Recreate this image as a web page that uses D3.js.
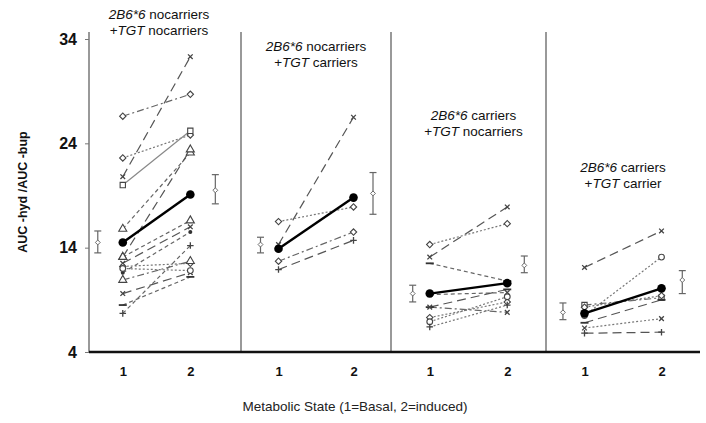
<!DOCTYPE html>
<html>
<head>
<meta charset="utf-8">
<script src="https://cdn.jsdelivr.net/npm/d3@7"></script>
<style>
  body { margin: 0; background: #fff; }
  svg { font-family: "Liberation Sans", Arial, sans-serif; }
  .tick-y text { font-size: 16px; font-weight: bold; fill: #111; }
  .tick-x text { font-size: 13px; font-weight: bold; fill: #111; }
</style>
</head>
<body>
<svg width="706" height="423"></svg>
<script>
// ---- data ----
var yTicks = [4, 14, 24, 34];
var states = [1, 2];

// panel titles: [italic gene, rest], [italic gene, rest]
var titleLine1 = [['2B6*6', ' nocarriers'], ['2B6*6', ' nocarriers'], ['2B6*6', ' carriers'], ['2B6*6', ' carriers']];
var titleLine2 = [['TGT', ' nocarriers'], ['TGT', ' carriers'], ['TGT', ' nocarriers'], ['TGT', ' carrier']];

// individual subjects [basal, induced]
var p1Subjects = [[20.8, 32.3], [26.6, 28.7], [22.6, 24.8], [20.0, 25.2], [15.8, 23.1],
                  [13.1, 23.4], [13.1, 16.6], [12.5, 16.0], [12.2, 12.5], [10.9, 12.7],
                  [11.6, 15.5], [9.6, 11.6], [8.5, 11.2], [7.7, 14.2], [12.0, 11.8]];
var p2Subjects = [[14.3, 26.5], [16.5, 17.9], [12.7, 15.5], [11.9, 14.7]];
var p3Subjects = [[13.1, 17.9], [14.3, 16.3], [12.5, 10.8], [9.5, 9.7], [8.3, 10.0],
                  [8.3, 7.8], [7.3, 8.8], [6.9, 9.3], [6.4, 8.5]];
var p4Subjects = [[12.1, 15.6], [7.5, 13.1], [8.5, 9.2], [6.8, 9.0], [6.3, 7.2], [5.8, 5.9], [8.3, 9.4]];

// group means
var meanBasal   = [14.5, 13.9, 9.6, 7.7];
var meanInduced = [19.1, 18.8, 10.6, 10.1];

// error bars (mean, low, high)
var errBasalMid   = [14.5, 14.3, 9.6, 7.8];
var errBasalLo    = [13.5, 13.5, 8.8, 7.1];
var errBasalHi    = [15.6, 15.0, 10.4, 8.7];
var errInducedMid = [19.5, 19.2, 12.3, 10.9];
var errInducedLo  = [18.2, 17.2, 11.6, 9.6];
var errInducedHi  = [21.0, 21.2, 13.2, 11.8];

// ---- styles (marker / dash per subject) ----
var p1Marks = ['x', 'd', 'd', 's', 't', 't', 't', 'x', 'd', 't', 'dot', 'x', '-', '+', 'o'];
var p1Dash  = ['long', 'dashdot', 'dot', 'solid', 'dash', 'long', 'dash', 'long', 'dot', 'dashdot', 'dash', 'long', 'dash', 'dash', 'dot'];
var p2Marks = ['x', 'd', 'd', '+'];
var p2Dash  = ['long', 'dot', 'dashdot', 'long'];
var p3Marks = ['x', 'd', '-', 'x', '-', 'x', 'd', 'o', '+'];
var p3Dash  = ['long', 'dot', 'dash', 'dash', 'long', 'dashdot', 'dot', 'dot', 'dot'];
var p4Marks = ['x', 'o', 's', '-', 'x', '+', 'd'];
var p4Dash  = ['long', 'dot', 'dashdot', 'long', 'dot', 'long', 'dot'];

var subjects = [p1Subjects, p2Subjects, p3Subjects, p4Subjects];
var marks = [p1Marks, p2Marks, p3Marks, p4Marks];
var dashes = [p1Dash, p2Dash, p3Dash, p4Dash];

// ---- layout ----
var svg = d3.select('svg');
var plotTop = 32, plotBottom = 352;
var panelEdges = [89, 241, 391, 546, 700];
var panelDomains = [[0.5, 2.75], [0.5, 2.5], [0.5, 2.5], [0.5, 2.5]];
var errPos = [[0.63, 2.37], [0.76, 2.26], [0.78, 2.22], [0.72, 2.27]];
var titleY = [[14, 30], [46, 62], [115, 131], [167, 183]];
var titleShift = [-6, 0, 5, 0];
var dashArray = { long: '9,5', dash: '4,3', dot: '2,2', dashdot: '7,3,2,3', solid: null };
var lineColor = { long: '#555', dash: '#666', dot: '#777', dashdot: '#666', solid: '#888' };

var yScale = d3.scaleLinear()
    .domain([4, 34])
    .range([352, 39]);

// left y axis
var yAxis = svg.append('g')
    .attr('class', 'tick-y')
    .attr('transform', 'translate(' + panelEdges[0] + ',0)')
    .call(d3.axisLeft(yScale).tickValues(yTicks).tickSize(4).tickPadding(8));
yAxis.select('.domain').remove();
yAxis.selectAll('.tick line').attr('stroke', '#777');

// panel frame lines
svg.selectAll('.divider')
    .data(panelEdges.slice(0, 4))
    .enter()
    .append('line')
    .attr('class', 'divider')
    .attr('x1', function(d){ return d; })
    .attr('x2', function(d){ return d; })
    .attr('y1', plotTop)
    .attr('y2', plotBottom)
    .attr('stroke', '#777')
    .attr('stroke-width', 1.5);

var symbolTimes = d3.symbolTimes || d3.symbolCross;
var symbolPlus = d3.symbolPlus || d3.symbolCross;

function drawMarker(g, type, x, y) {
    if (type === '-') {
        g.append('line')
            .attr('x1', x - 4).attr('x2', x + 4)
            .attr('y1', y).attr('y2', y)
            .attr('stroke', '#333').attr('stroke-width', 1.8);
        return;
    }
    if (type === 'dot') {
        g.append('circle').attr('cx', x).attr('cy', y).attr('r', 2).attr('fill', '#333');
        return;
    }
    var sym, size = 30, open = true, rot = 0;
    if (type === 'x') { sym = symbolTimes; size = 16; open = false; }
    else if (type === '+') { sym = symbolPlus; size = 16; open = false; }
    else if (type === 'd') { sym = d3.symbolSquare; size = 20; rot = 45; }
    else if (type === 's') { sym = d3.symbolSquare; size = 28; }
    else if (type === 't') { sym = d3.symbolTriangle; size = 28; }
    else { sym = d3.symbolCircle; size = 26; }
    g.append('path')
        .attr('d', d3.symbol().type(sym).size(size)())
        .attr('transform', 'translate(' + x + ',' + y + ') rotate(' + rot + ')')
        .attr('fill', open ? '#fff' : 'none')
        .attr('stroke', '#444')
        .attr('stroke-width', open ? 1.1 : 1.3);
}

subjects.forEach(function(panel, i) {
    var xScale = d3.scaleLinear()
        .domain(panelDomains[i])
        .range([panelEdges[i], panelEdges[i + 1]]);
    var g = svg.append('g').attr('class', 'panel');

    // x tick labels
    var xAxis = svg.append('g')
        .attr('class', 'tick-x')
        .attr('transform', 'translate(0,' + (plotBottom + 12) + ')')
        .call(d3.axisBottom(xScale).tickValues(states).tickSize(0).tickFormat(d3.format('d')));
    xAxis.select('.domain').remove();

    // individual subject lines
    panel.forEach(function(d, j) {
        var style = dashes[i][j];
        g.append('line')
            .attr('x1', xScale(1)).attr('x2', xScale(2))
            .attr('y1', yScale(d[0])).attr('y2', yScale(d[1]))
            .attr('stroke', lineColor[style])
            .attr('stroke-width', 1.2)
            .attr('stroke-dasharray', dashArray[style]);
    });
    panel.forEach(function(d, j) {
        drawMarker(g, marks[i][j], xScale(1), yScale(d[0]));
        drawMarker(g, marks[i][j], xScale(2), yScale(d[1]));
    });

    // mean line
    g.append('line')
        .attr('x1', xScale(1)).attr('x2', xScale(2))
        .attr('y1', yScale(meanBasal[i])).attr('y2', yScale(meanInduced[i]))
        .attr('stroke', '#000')
        .attr('stroke-width', 2.4);
    [[1, meanBasal[i]], [2, meanInduced[i]]].forEach(function(p) {
        g.append('circle')
            .attr('cx', xScale(p[0])).attr('cy', yScale(p[1]))
            .attr('r', 4.3)
            .attr('fill', '#000');
    });

    // error bars
    var bars = [[errPos[i][0], errBasalMid[i], errBasalLo[i], errBasalHi[i]],
                [errPos[i][1], errInducedMid[i], errInducedLo[i], errInducedHi[i]]];
    bars.forEach(function(b) {
        var x = xScale(b[0]);
        var eb = g.append('g').attr('stroke', '#666').attr('stroke-width', 1.2);
        eb.append('line').attr('x1', x).attr('x2', x).attr('y1', yScale(b[2])).attr('y2', yScale(b[3]));
        eb.append('line').attr('x1', x - 3.5).attr('x2', x + 3.5).attr('y1', yScale(b[2])).attr('y2', yScale(b[2]));
        eb.append('line').attr('x1', x - 3.5).attr('x2', x + 3.5).attr('y1', yScale(b[3])).attr('y2', yScale(b[3]));
        eb.append('path')
            .attr('d', d3.symbol().type(d3.symbolSquare).size(12)())
            .attr('transform', 'translate(' + x + ',' + yScale(b[1]) + ') rotate(45)')
            .attr('fill', '#fff')
            .attr('stroke-width', 0.9);
    });

    // panel title
    var cx = (panelEdges[i] + panelEdges[i + 1]) / 2 + titleShift[i];
    var t1 = svg.append('text')
        .attr('x', cx).attr('y', titleY[i][0] + 5)
        .attr('text-anchor', 'middle')
        .style('font-size', '13.5px').style('fill', '#111');
    t1.append('tspan').style('font-style', 'italic').text(titleLine1[i][0]);
    t1.append('tspan').text(titleLine1[i][1]);
    var t2 = svg.append('text')
        .attr('x', cx).attr('y', titleY[i][1] + 5)
        .attr('text-anchor', 'middle')
        .style('font-size', '13.5px').style('fill', '#111');
    t2.append('tspan').text('+');
    t2.append('tspan').style('font-style', 'italic').text(titleLine2[i][0]);
    t2.append('tspan').text(titleLine2[i][1]);
});

// bottom axis line
svg.append('line')
    .attr('x1', panelEdges[0]).attr('x2', panelEdges[4])
    .attr('y1', plotBottom).attr('y2', plotBottom)
    .attr('stroke', '#111')
    .attr('stroke-width', 2.5);

// axis titles
svg.append('text')
    .attr('transform', 'translate(23,192) rotate(-90)')
    .attr('text-anchor', 'middle')
    .attr('dy', '0.35em')
    .style('font-size', '12.5px').style('font-weight', 'bold').style('fill', '#111')
    .text('AUC -hyd /AUC -bup');

svg.append('text')
    .attr('x', 355).attr('y', 411)
    .attr('text-anchor', 'middle')
    .style('font-size', '13.5px').style('fill', '#222')
    .text('Metabolic State (1=Basal, 2=induced)');
</script>
</body>
</html>
